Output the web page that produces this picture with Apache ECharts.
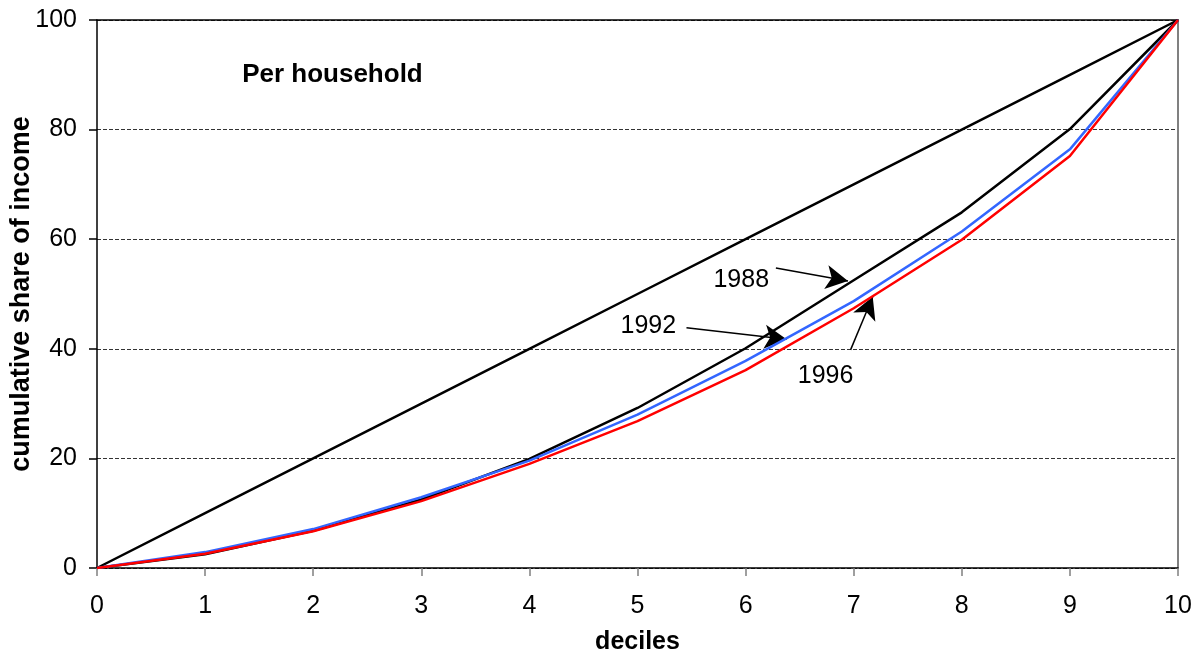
<!DOCTYPE html>
<html>
<head>
<meta charset="utf-8">
<script src="https://cdn.jsdelivr.net/npm/echarts@6/dist/echarts.min.js"></script>
<style>
html,body{margin:0;padding:0;background:#fff;}
#c{width:1203px;height:655px;}
</style>
</head>
<body>
<div id="c"></div>
<script>
var deciles = [0,1,2,3,4,5,6,7,8,9,10];
var equality = [0,10,20,30,40,50,60,70,80,90,100];
var y1988 = [0,2.5,6.8,12.5,19.9,29.2,40.1,52.5,64.9,80.1,100];
var y1992 = [0,2.9,7.1,12.9,19.6,28.0,37.8,48.7,61.4,76.4,100];
var y1996 = [0,2.6,6.7,12.2,19.0,26.8,36.1,47.4,59.9,75.2,100];
var yTicks = [0,20,40,60,80,100];

var FONT = 'Liberation Sans, Arial, sans-serif';

function pairs(vals){ return deciles.map(function(d,i){ return [d, vals[i]]; }); }

var annotations = [
  {text:'1988', at:[5.96,52.6], from:[6.28,54.74], to:[6.947,52.37]},
  {text:'1992', at:[5.10,44.1], from:[5.453,43.85], to:[6.379,41.73]},
  {text:'1996', at:[6.74,35.07], from:[6.971,39.8], to:[7.176,49.5]}
];

var chart = echarts.init(document.getElementById('c'), null, {renderer:'canvas'});

function arrowLine(a){
  return {
    type:'line', data:[], silent:true,
    markLine:{
      silent:true, symbol:['none','arrow'], symbolSize:[18,22],
      lineStyle:{color:'#000', width:1.5, type:'solid'},
      label:{show:false},
      data:[[{coord:a.from},{coord:a.to}]]
    }
  };
}

var option = {
  animation:false,
  backgroundColor:'#fff',
  grid:{left:97, right:25, top:20, bottom:87, containLabel:false, outerBoundsMode:'none'},
  xAxis:[{
    type:'value', min:0, max:10, interval:1,
    name:'deciles', nameLocation:'middle', nameGap:62, nameMoveOverlap:false,
    nameTextStyle:{fontFamily:FONT, fontSize:25, fontWeight:'bold', color:'#000'},
    axisLine:{show:true, lineStyle:{color:'#000', width:1.5}},
    axisTick:{show:true, inside:false, length:8, lineStyle:{color:'#808080', width:1.5}},
    axisLabel:{fontFamily:FONT, fontSize:25, color:'#000', margin:26},
    splitLine:{show:false}
  },{
    type:'value', min:0, max:10, position:'top',
    axisLine:{show:true, onZero:false, lineStyle:{color:'#000', width:1.5}},
    axisTick:{show:false}, axisLabel:{show:false}, splitLine:{show:false}
  }],
  yAxis:[{
    type:'value', min:0, max:100, interval:20,
    name:'cumulative share of income', nameLocation:'middle', nameGap:62, nameMoveOverlap:false,
    nameTextStyle:{fontFamily:FONT, fontSize:27, fontWeight:'bold', color:'#000'},
    axisLine:{show:true, lineStyle:{color:'#000', width:1.5}},
    axisTick:{show:true, inside:false, length:8, lineStyle:{color:'#000', width:1.5}},
    axisLabel:{fontFamily:FONT, fontSize:25, color:'#000', margin:20,
      formatter:function(v){ return yTicks.indexOf(v) >= 0 ? String(v) : ''; }},
    splitLine:{show:true, lineStyle:{color:'#333', width:1, type:[4,2]}}
  },{
    type:'value', min:0, max:100, position:'right',
    axisLine:{show:true, onZero:false, lineStyle:{color:'#808080', width:2}},
    axisTick:{show:false}, axisLabel:{show:false}, splitLine:{show:false}
  }],
  series:[
    {name:'equality', type:'line', data:pairs(equality), symbol:'none',
     lineStyle:{color:'#000', width:2.5}, z:3},
    {name:'1988', type:'line', data:pairs(y1988), symbol:'none',
     lineStyle:{color:'#000', width:2.5}, z:4},
    {name:'1992', type:'line', data:pairs(y1992), symbol:'none',
     lineStyle:{color:'#3366ff', width:2.5}, z:5},
    {name:'1996', type:'line', data:pairs(y1996), symbol:'none',
     lineStyle:{color:'#ff0000', width:2.5}, z:6}
  ].concat(annotations.map(arrowLine))
};
chart.setOption(option);

function placeTexts(){
  var els = annotations.map(function(a){
    var p = chart.convertToPixel({gridIndex:0}, a.at);
    return {type:'text', x:p[0], y:p[1], z:100,
      style:{text:a.text, fontFamily:FONT, fontSize:25, fill:'#000', align:'center', verticalAlign:'middle'}};
  });
  var ph = chart.convertToPixel({gridIndex:0}, [2.178, 89.96]);
  els.push({type:'text', x:ph[0], y:ph[1], z:100,
    style:{text:'Per household', fontFamily:FONT, fontSize:26, fontWeight:'bold', fill:'#000', align:'center', verticalAlign:'middle'}});
  chart.setOption({graphic:els});
}
placeTexts();
</script>
</body>
</html>
